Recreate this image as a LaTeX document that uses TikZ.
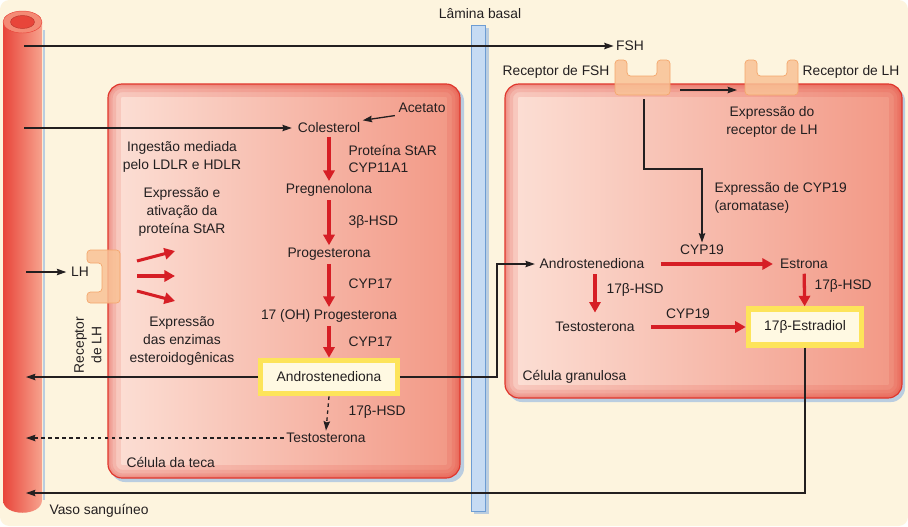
\documentclass[tikz,border=0pt]{standalone}
\usepackage{fontspec}
\setmainfont{Liberation Sans}
\usetikzlibrary{arrows.meta}

\definecolor{bg}{HTML}{FDF4DE}
\definecolor{txt}{HTML}{231F20}
\definecolor{vesL}{HTML}{E8453A}
\definecolor{vesR}{HTML}{F7A38E}
\definecolor{vesT}{HTML}{F48A75}
\definecolor{cellL}{HTML}{FCE0D6}
\definecolor{cellR}{HTML}{F29784}
\definecolor{cellB}{HTML}{E0352B}
\definecolor{shadowc}{HTML}{BACDE0}
\definecolor{redA}{HTML}{D61E25}
\definecolor{yelB}{HTML}{FDE45A}
\definecolor{yelF}{HTML}{FFF9E2}
\definecolor{recF}{HTML}{F9C296}
\definecolor{recB}{HTML}{F4A66C}
\definecolor{lamF}{HTML}{C6DBF3}
\definecolor{lamB}{HTML}{6E9DD3}

\begin{document}
\begin{tikzpicture}[
  x=0.03cm, y=-0.03cm,
  every node/.style={font=\fontsize{11.8}{15}\selectfont, text=txt, inner sep=2pt},
  lbl/.style={align=center},
  arr/.style={draw=txt, line width=1.1pt, -{Stealth[length=8pt,width=5.5pt,inset=1pt]}},
  dasharr/.style={arr, dash pattern=on 3pt off 3pt},
  redarr/.style={draw=redA, line width=2.8pt, -{Triangle[length=9pt,width=9.5pt]}},
  ybox/.style={draw=yelB, line width=4.5pt, fill=yelF},
  recep/.style={fill=recF, draw=recB, line width=0.6pt, fill opacity=0.85, rounded corners=3pt}
]
  % background
  \fill[white] (0,0) rectangle (908,526);
  \fill[bg, rounded corners=8pt] (0,0) rectangle (908,526);
  \useasboundingbox (0,0) rectangle (908,526);

  % blood vessel
  \draw[shadowc, line width=2pt] (44,30) -- (44,500);
  \shade[left color=vesL, right color=vesR] (3,22) -- (3,500)
    .. controls (3,517) and (42,517) .. (42,500) -- (42,22) -- cycle;
  \draw[fill=vesT, draw=vesL] (22.5,22) ellipse [x radius=19.5, y radius=11];
  \draw[fill=vesL, draw=vesL!80!black] (22.5,22) ellipse [x radius=12, y radius=6.5];

  % theca cell
  \fill[shadowc, rounded corners=12pt] (111,87) rectangle (464,482);
  \begin{scope}
    \clip[rounded corners=12pt] (108,84) rectangle (460,478);
    \shade[left color=cellL, right color=cellR] (108,84) rectangle (460,478);
    \foreach \w in {22,14,8,4}
      \draw[cellB, opacity=0.13, line width=\w pt, rounded corners=12pt] (108,84) rectangle (460,478);
  \end{scope}
  \draw[cellB, line width=1pt, rounded corners=12pt] (108,84) rectangle (460,478);

  % granulosa cell
  \fill[shadowc, rounded corners=12pt] (508,87) rectangle (905,402);
  \begin{scope}
    \clip[rounded corners=12pt] (505,84) rectangle (902,398);
    \shade[left color=cellL, right color=cellR] (505,84) rectangle (902,398);
    \foreach \w in {22,14,8,4}
      \draw[cellB, opacity=0.13, line width=\w pt, rounded corners=12pt] (505,84) rectangle (902,398);
  \end{scope}
  \draw[cellB, line width=1pt, rounded corners=12pt] (505,84) rectangle (902,398);

  % basal lamina
  \fill[shadowc] (474,28) rectangle (489,514);
  \draw[lamB, fill=lamF, line width=0.8pt] (471,25) rectangle (485,511);
  \node (lam) at (480,14) {Lâmina basal};

  % receptors
  \path[recep] (87,250) -- (120,250) -- (120,303) -- (87,303) -- (87,292)
    -- (102,292) -- (102,263) -- (87,263) -- cycle;
  \path[recep] (615,60) -- (627,60) -- (627,76) -- (657,76) -- (657,60)
    -- (670,60) -- (670,95) -- (615,95) -- cycle;
  \path[recep] (745,60) -- (757,60) -- (757,76) -- (787,76) -- (787,60)
    -- (798,60) -- (798,95) -- (745,95) -- cycle;

  % vessel side points
  \coordinate (vFSH) at (24,46);
  \coordinate (vCol) at (24,128);
  \coordinate (vLH) at (26,272);
  \coordinate (vAnd) at (26,377);
  \coordinate (vTes) at (26,438);
  \coordinate (vBot) at (26,493);

  % theca pathway
  \node (col) at (329,128) {Colesterol};
  \node (acet) at (422,108) {Acetato};
  \node (preg) at (329,190) {Pregnenolona};
  \node (prog) at (329,254) {Progesterona};
  \node (ohp) at (329,316) {17 (OH) Progesterona};
  \node[ybox, minimum width=4.1cm, minimum height=1cm] (andT) at (329,377) {Androstenediona};
  \node (tesT) at (326,438) {Testosterona};

  \node[anchor=west, align=left] (enz1) at (346,159) {Proteína StAR\\CYP11A1};
  \node[anchor=west] (enz2) at (346,222) {3β-HSD};
  \node[anchor=west] (enz3) at (346,284) {CYP17};
  \node[anchor=west] (enz4) at (346,342) {CYP17};
  \node[anchor=west] (enz5) at (346,412) {17β-HSD};

  \node[lbl] (ldl) at (182,157) {Ingestão mediada\\pelo LDLR e HDLR};
  \node[lbl] (star) at (182,212) {Expressão e\\ativação da\\proteína StAR};
  \node[lbl] (esteroid) at (182,341) {Expressão\\das enzimas\\esteroidogênicas};
  \node[anchor=west] (teca) at (124,462) {Célula da teca};
  \node[anchor=west] (vaso) at (47,511) {Vaso sanguíneo};
  \node (lh) at (80,272) {LH};
  \node[lbl, rotate=90] (lhrec) at (88,345) {Receptor\\de LH};

  % granulosa pathway
  \node (fsh) at (630,46) {FSH};
  \node[anchor=east] (fshlbl) at (612,72) {Receptor de FSH};
  \node[anchor=west] (lhlbl) at (800,72) {Receptor de LH};
  \node[lbl] (lhexp) at (772,122) {Expressão do\\receptor de LH};
  \node[anchor=west, align=left] (cypexp) at (712,198) {Expressão de CYP19\\(aromatase)};
  \node (cypA) at (702,250) {CYP19};
  \node (andG) at (592,264) {Androstenediona};
  \node (est) at (804,264) {Estrona};
  \node (tesG) at (595,327) {Testosterona};
  \node[ybox, minimum width=3.4cm, minimum height=1.08cm] (estr) at (805,327) {17β-Estradiol};
  \node[anchor=west] (hsdG1) at (604,290) {17β-HSD};
  \node (cypB) at (688,314) {CYP19};
  \node[anchor=west] (hsdG2) at (812,286) {17β-HSD};
  \node[anchor=west] (gran) at (520,377) {Célula granulosa};

  \coordinate (fshRb) at (644,99);
  \coordinate (fshRr) at (680,90);
  \coordinate (lhRl) at (737,90);

  % black connectors
  \draw[arr] (vFSH) -- (fsh);
  \draw[arr, shorten >=3pt] (vCol) -- (col);
  \draw[arr, shorten <=1pt] (acet.south west) -- (col.north east);
  \draw[arr, shorten >=2pt] (vLH) -- (lh);
  \draw[arr] (andT.west) -- (vAnd);
  \draw[arr, shorten >=2pt] (andT.east) -- (497,377) |- (andG.west);
  \draw[dasharr] (andT.south) -- (tesT.north);
  \draw[dasharr] (tesT.west) -- (vTes);
  \draw[arr] (estr.south) |- (vBot);
  \draw[arr] (fshRr) -- (lhRl);
  \draw[arr] (fshRb) -- (644,169) -| (cypA.north);

  % red enzyme steps
  \draw[redarr, shorten <=1pt] (col) -- (preg);
  \draw[redarr, shorten <=1pt] (preg) -- (prog);
  \draw[redarr, shorten <=1pt] (prog) -- (ohp);
  \draw[redarr, shorten <=1pt] (ohp) -- (andT);
  \draw[redarr, shorten <=12pt, shorten >=4pt] (andG) -- (est);
  \draw[redarr, shorten <=2pt, shorten >=6pt] (tesG |- andG.south) -- (tesG.north);
  \draw[redarr, shorten <=2pt] (est) -- (estr);
  \draw[redarr, shorten <=12pt] (tesG) -- (estr);
  \foreach \i/\a/\b in {1/261/251, 2/276/276, 3/291/301} {
    \coordinate (s\i) at (137,\a);
    \coordinate (e\i) at (175,\b);
    \draw[redarr, line width=2.6pt] (s\i) -- (e\i);
  }
\end{tikzpicture}
\end{document}
